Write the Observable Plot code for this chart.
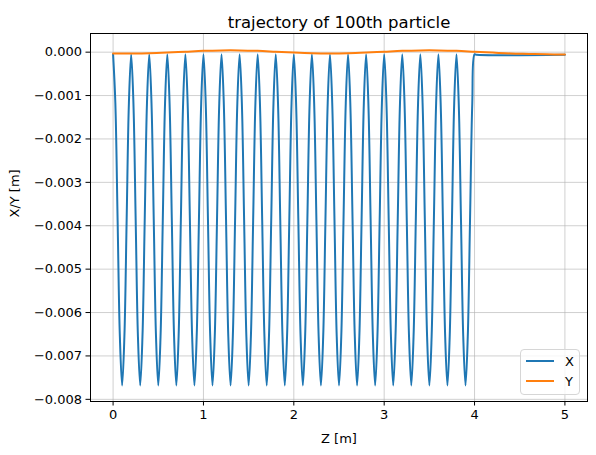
<!DOCTYPE html>
<html>
<head>
<meta charset="utf-8">
<script src="https://cdn.jsdelivr.net/npm/d3@7"></script>
<script src="https://cdn.jsdelivr.net/npm/@observablehq/plot@0.6"></script>
<style>
  html, body { margin: 0; padding: 0; background: #fff; }
  #wrap { position: relative; width: 596px; height: 455px; font-family: "DejaVu Sans", sans-serif; }
  #legend { position: absolute; left: 520px; top: 349px; width: 60px; height: 46px; box-sizing: border-box;
    border: 1px solid #d6d6d6; border-radius: 4px; background: rgba(255,255,255,0.8); font-size: 13px; color: #000; }
  #legend .row { position: absolute; left: 5px; height: 16px; display: flex; align-items: center; }
  #legend .sw { width: 28px; height: 2px; margin-right: 11px; }
</style>
</head>
<body>
<div id="wrap"></div>
<script>
const title = "trajectory of 100th particle";
const xLabel = "Z [m]";
const yLabel = "X/Y [m]";
const seriesNames = ["X", "Y"];
const seriesColors = ["#1f77b4", "#ff7f0e"];
const xTicks = [0, 1, 2, 3, 4, 5];
const yTicks = [0, -0.001, -0.002, -0.003, -0.004, -0.005, -0.006, -0.007, -0.008];

// X series: sampled every 0.025 m from z = 0 to z = 4, then flat to z = 5
const xStep = 0.025;
const xValues = [
  -0.00005, -0.00117, -0.00387, -0.00656, -0.00768, -0.00656, -0.00387, -0.00117,
  -0.00005, -0.00117, -0.00387, -0.00656, -0.00768, -0.00656, -0.00387, -0.00117,
  -0.00005, -0.00117, -0.00387, -0.00656, -0.00768, -0.00656, -0.00387, -0.00117,
  -0.00005, -0.00117, -0.00387, -0.00656, -0.00768, -0.00656, -0.00387, -0.00117,
  -0.00005, -0.00117, -0.00387, -0.00656, -0.00768, -0.00656, -0.00387, -0.00117,
  -0.00005, -0.00117, -0.00387, -0.00656, -0.00768, -0.00656, -0.00387, -0.00117,
  -0.00005, -0.00117, -0.00387, -0.00656, -0.00768, -0.00656, -0.00387, -0.00117,
  -0.00005, -0.00117, -0.00387, -0.00656, -0.00768, -0.00656, -0.00387, -0.00117,
  -0.00005, -0.00117, -0.00387, -0.00656, -0.00768, -0.00656, -0.00387, -0.00117,
  -0.00005, -0.00117, -0.00387, -0.00656, -0.00768, -0.00656, -0.00387, -0.00117,
  -0.00005, -0.00117, -0.00387, -0.00656, -0.00768, -0.00656, -0.00387, -0.00117,
  -0.00005, -0.00117, -0.00387, -0.00656, -0.00768, -0.00656, -0.00387, -0.00117,
  -0.00005, -0.00117, -0.00387, -0.00656, -0.00768, -0.00656, -0.00387, -0.00117,
  -0.00005, -0.00117, -0.00387, -0.00656, -0.00768, -0.00656, -0.00387, -0.00117,
  -0.00005, -0.00117, -0.00387, -0.00656, -0.00768, -0.00656, -0.00387, -0.00117,
  -0.00005, -0.00117, -0.00387, -0.00656, -0.00768, -0.00656, -0.00387, -0.00117,
  -0.00005, -0.00117, -0.00387, -0.00656, -0.00768, -0.00656, -0.00387, -0.00117,
  -0.00005, -0.00117, -0.00387, -0.00656, -0.00768, -0.00656, -0.00387, -0.00117,
  -0.00005, -0.00117, -0.00387, -0.00656, -0.00768, -0.00656, -0.00387, -0.00117,
  -0.00005, -0.00117, -0.00387, -0.00656, -0.00768, -0.00656, -0.00387, -0.00117,
  -0.00005
];
const xTailZ = [4.02, 5.0];
const xTailValues = [-0.00006, -0.00006];

// Y series: sampled every 0.2 m from z = 0 to z = 5
const yStep = 0.2;
const yValues = [
  -0.00003, -0.00003, -0.000025, -0.00001, 0.00001, 0.00003, 0.00004, 0.00004, 0.00003, 0.00001,
  -0.00001, -0.000025, -0.00003, -0.000025, -0.00001, 0.00001, 0.00003, 0.00004, 0.00004, 0.00003,
  0.00001, -0.00001, -0.00003, -0.00004, -0.00005, -0.000055
];

const xData = xValues.map((v, i) => ({z: +(i * xStep).toFixed(4), v}))
  .concat(xTailZ.map((z, i) => ({z, v: xTailValues[i]})));
const yData = yValues.map((v, i) => ({z: +(i * yStep).toFixed(4), v}));

const fmt = d3.format(".3f");

const chart = Plot.plot({
  width: 596,
  height: 455,
  marginLeft: 90,
  marginRight: 9,
  marginTop: 33,
  marginBottom: 54,
  style: {fontFamily: "DejaVu Sans, sans-serif", fontSize: "13px", background: "#fff", color: "#000"},
  x: {domain: [-0.25, 5.25]},
  y: {domain: [-0.00805, 0.00043]},
  marks: [
    Plot.gridX(xTicks, {stroke: "#b0b0b0", strokeOpacity: 0.6, strokeWidth: 1}),
    Plot.gridY(yTicks, {stroke: "#b0b0b0", strokeOpacity: 0.6, strokeWidth: 1}),
    Plot.line(xData, {x: "z", y: "v", stroke: seriesColors[0], strokeWidth: 2, curve: "catmull-rom"}),
    Plot.line(yData, {x: "z", y: "v", stroke: seriesColors[1], strokeWidth: 2, curve: "catmull-rom"}),
    Plot.frame({stroke: "#000", strokeWidth: 1}),
    Plot.axisX(xTicks, {tickSize: 4.5, tickPadding: 4, label: null, fontSize: 13, tickFormat: d3.format("d")}),
    Plot.axisY(yTicks, {tickSize: 4.5, tickPadding: 4, label: null, fontSize: 13, tickFormat: fmt}),
    Plot.text([title], {frameAnchor: "top", dy: -6, lineAnchor: "bottom", fontSize: 16.5}),
    Plot.text([xLabel], {frameAnchor: "bottom", dy: 37, lineAnchor: "middle", fontSize: 13}),
    Plot.text([yLabel], {frameAnchor: "left", dx: -76, rotate: -90, fontSize: 13})
  ]
});

const wrap = document.getElementById("wrap");
wrap.appendChild(chart);

const legend = document.createElement("div");
legend.id = "legend";
seriesNames.forEach((name, i) => {
  const row = document.createElement("div");
  row.className = "row";
  row.style.top = (3 + i * 20) + "px";
  const sw = document.createElement("div");
  sw.className = "sw";
  sw.style.background = seriesColors[i];
  const t = document.createElement("span");
  t.textContent = name;
  row.appendChild(sw);
  row.appendChild(t);
  legend.appendChild(row);
});
wrap.appendChild(legend);
</script>
</body>
</html>
